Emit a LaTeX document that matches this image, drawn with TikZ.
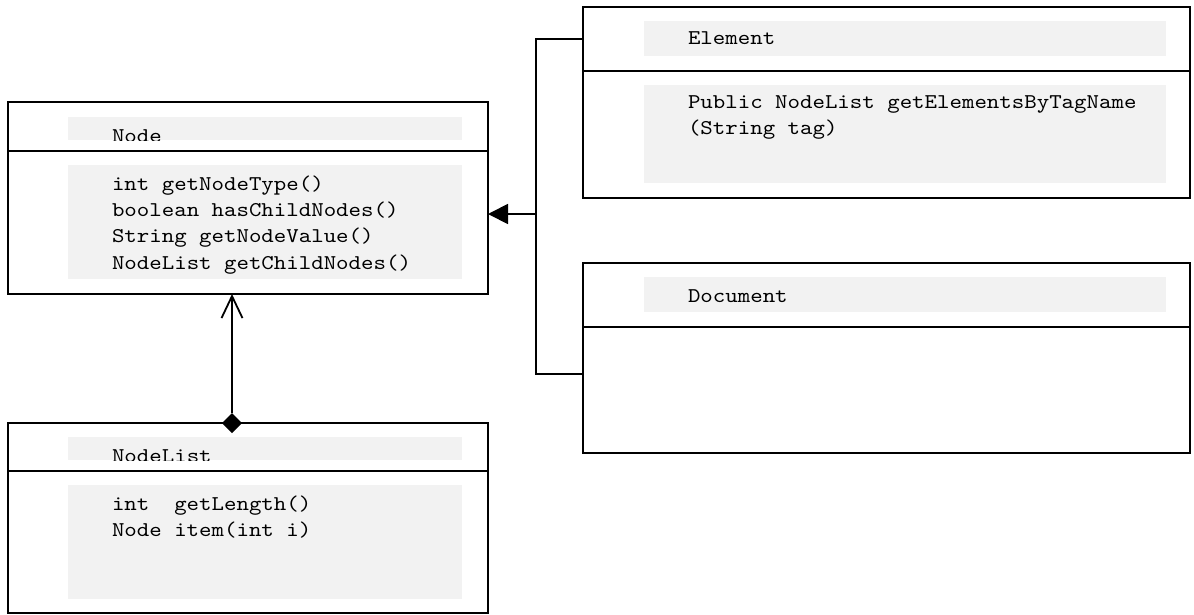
\documentclass[tikz,border=0pt]{standalone}
\usepackage{fontspec}
\newfontfamily\codefont{lmmono10-regular}[Extension=.otf, FakeStretch=1.13]
\usetikzlibrary{arrows.meta,shapes.geometric}
\definecolor{panel}{RGB}{242,242,242}
\begin{document}
\begin{tikzpicture}[x=1pt,y=-1pt,
  ln/.style={line width=1.8pt, draw=black},
  classbox/.style={rectangle, draw=black, line width=1.8pt, anchor=north west,
    inner sep=0pt, outer sep=0pt},
  panelfill/.style={fill=panel, draw=none},
  code/.style={anchor=base west, inner sep=0pt, outer sep=0pt,
    font=\codefont\fontsize{21}{26}\selectfont},
  compdiamond/.style={diamond, fill=black, inner sep=0pt, outer sep=0pt,
    minimum width=20pt, minimum height=20pt, aspect=1},
]
\useasboundingbox (0,0) rectangle (1194,614);

% ---------- grey panels behind the texts ----------
\fill[panelfill] (68,165) rectangle (462,279);   % Node operations
\fill[panelfill] (68,485) rectangle (462,599);   % NodeList operations
\fill[panelfill] (644,21) rectangle (1166,56);   % Element name
\fill[panelfill] (644,85) rectangle (1166,183);  % Element operations
\fill[panelfill] (644,277) rectangle (1166,312); % Document name

% Node and NodeList names are cut by their panels
\begin{scope}
  \clip (68,117) rectangle (462,140);
  \fill[panelfill] (68,117) rectangle (462,140);
  \node[code] (nodename) at (112,142.5) {Node};
\end{scope}
\begin{scope}
  \clip (68,437) rectangle (462,460);
  \fill[panelfill] (68,437) rectangle (462,460);
  \node[code] (nlname) at (112,462) {NodeList};
\end{scope}

% ---------- class boxes ----------
\node[classbox, minimum width=480pt, minimum height=192pt] (nodebox) at (8,102) {};
\node[classbox, minimum width=480pt, minimum height=190pt] (nlbox) at (8,423) {};
\node[classbox, minimum width=607pt, minimum height=191pt] (elbox) at (583,7) {};
\node[classbox, minimum width=607pt, minimum height=190pt] (docbox) at (583,263) {};

% compartment dividers
\coordinate (ndiv) at (0,151);
\coordinate (nldiv) at (0,471);
\coordinate (eldiv) at (0,71);
\coordinate (docdiv) at (0,327);
\draw[ln] (nodebox.west |- ndiv) -- (nodebox.east |- ndiv);
\draw[ln] (nlbox.west |- nldiv) -- (nlbox.east |- nldiv);
\draw[ln] (elbox.west |- eldiv) -- (elbox.east |- eldiv);
\draw[ln] (docbox.west |- docdiv) -- (docbox.east |- docdiv);

% ---------- texts ----------
\node[code] (n1) at (112,190) {int getNodeType()};
\node[code] (n2) at (112,216) {boolean hasChildNodes()};
\node[code] (n3) at (112,242.5) {String getNodeValue()};
\node[code] (n4) at (112,269) {NodeList getChildNodes()};

\node[code] (l1) at (112,510) {int\ \ getLength()};
\node[code] (l2) at (112,536) {Node item(int i)};

\node[code] (elname) at (688,44.5) {Element};
\node[code] (e1) at (688,108) {Public NodeList getElementsByTagName};
\node[code] (e2) at (688,134) {(String tag)};

\node[code] (docname) at (688,302.5) {Document};

% ---------- connectors ----------
% composition: NodeList holds Node
\node[compdiamond] (comp) at (232,423) {};
\draw[ln, -{Straight Barb[length=22pt, width=21pt]}] (comp.north) -- (comp.north |- nodebox.south);

% Element and Document derive from Node
\coordinate (jtop) at (536,39);
\coordinate (jbot) at (536,374);
\coordinate (jmid) at (536,214);
\draw[ln] (elbox.west |- jtop) -- (jtop) -- (jbot) -- (docbox.west |- jbot);
\draw[ln, -{Triangle[length=20pt, width=20pt]}] (jmid) -- (nodebox.east |- jmid);
\end{tikzpicture}
\end{document}
